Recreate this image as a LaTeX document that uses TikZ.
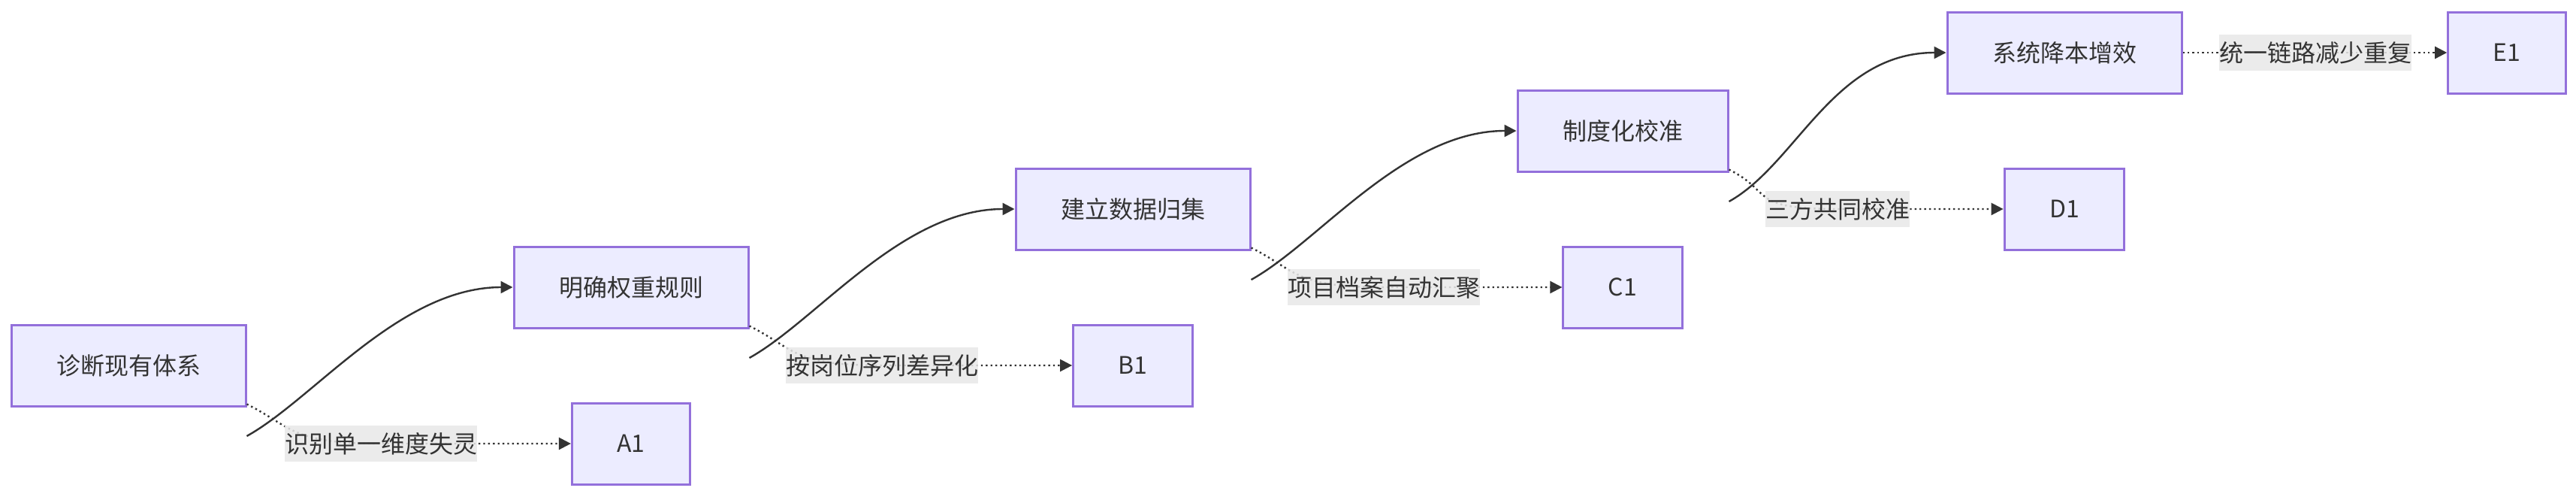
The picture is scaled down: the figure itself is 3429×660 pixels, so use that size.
\documentclass[tikz,border=0pt]{standalone}
\usepackage{fontspec}
\setmainfont{Noto Sans CJK SC}
\usetikzlibrary{arrows.meta}
\definecolor{boxfill}{HTML}{ECECFF}
\definecolor{boxline}{HTML}{9370DB}
\definecolor{edgeline}{HTML}{333333}
\definecolor{lblfill}{HTML}{E8E8E8}
\tikzset{
	stage/.style={draw=boxline, fill=boxfill, line width=1.5pt, minimum height=54pt, inner xsep=30pt, font=\fontsize{16}{18}\selectfont, text=edgeline},
	lbl/.style={fill=lblfill, fill opacity=0.85, text opacity=1, inner xsep=0pt, minimum height=24pt, font=\fontsize{16}{18}\selectfont, text=edgeline},
	flow/.style={edgeline, line width=1.2pt, -{Triangle[length=8pt,width=8pt]}},
	side/.style={edgeline, line width=1.2pt, dotted, -{Triangle[length=8pt,width=8pt]}}
}
\begin{document}
\begin{tikzpicture}[x=0.5pt, y=-0.5pt]
			
			\useasboundingbox (0, 0) rectangle (3429, 660);
			
			% main stages
			\node [stage] (diag) at (171, 486) {诊断现有体系};
			\node [stage] (rule) at (840, 382) {明确权重规则};
			\node [stage] (data) at (1508, 278) {建立数据归集};
			\node [stage] (calib) at (2160, 174) {制度化校准};
			\node [stage] (save) at (2748, 70) {系统降本增效};
			
			% results
			\node [stage] (a1) at (840, 590) {A1};
			\node [stage] (b1) at (1508, 486) {B1};
			\node [stage] (c1) at (2160, 382) {C1};
			\node [stage] (d1) at (2748, 278) {D1};
			\node [stage] (e1) at (3337, 70) {E1};
			
			% main flow
			\draw [flow] ([yshift=-47pt]diag.east) .. controls +(90, -50) and +(-150, 0) .. (rule.west);
			\draw [flow] ([yshift=-47pt]rule.east) .. controls +(90, -50) and +(-150, 0) .. (data.west);
			\draw [flow] ([yshift=-47pt]data.east) .. controls +(90, -50) and +(-150, 0) .. (calib.west);
			\draw [flow] ([yshift=-47pt]calib.east) .. controls +(90, -50) and +(-150, 0) .. (save.west);
			
			% side branches
			\draw [side] ([yshift=2pt]diag.south east) .. controls +(60, 30) and +(-120, 0) .. (507, 590) -- (a1.west);
			\draw [side] ([yshift=2pt]rule.south east) .. controls +(60, 30) and +(-120, 0) .. (1174, 486) -- (b1.west);
			\draw [side] ([yshift=2pt]data.south east) .. controls +(60, 30) and +(-120, 0) .. (1842, 382) -- (c1.west);
			\draw [side] ([yshift=2pt]calib.south east) .. controls +(60, 30) and +(-120, 0) .. (2446, 278) -- (d1.west);
			\draw [side] (save.east) -- (e1.west);
			
			\node [lbl] (la) at (507, 590) {识别单一维度失灵};
			\node [lbl] (lb) at (1174, 486) {按岗位序列差异化};
			\node [lbl] (lc) at (1842, 382) {项目档案自动汇聚};
			\node [lbl] (ld) at (2446, 278) {三方共同校准};
			\node [lbl] (le) at (3082, 70) {统一链路减少重复};
			
\end{tikzpicture}
\end{document}
